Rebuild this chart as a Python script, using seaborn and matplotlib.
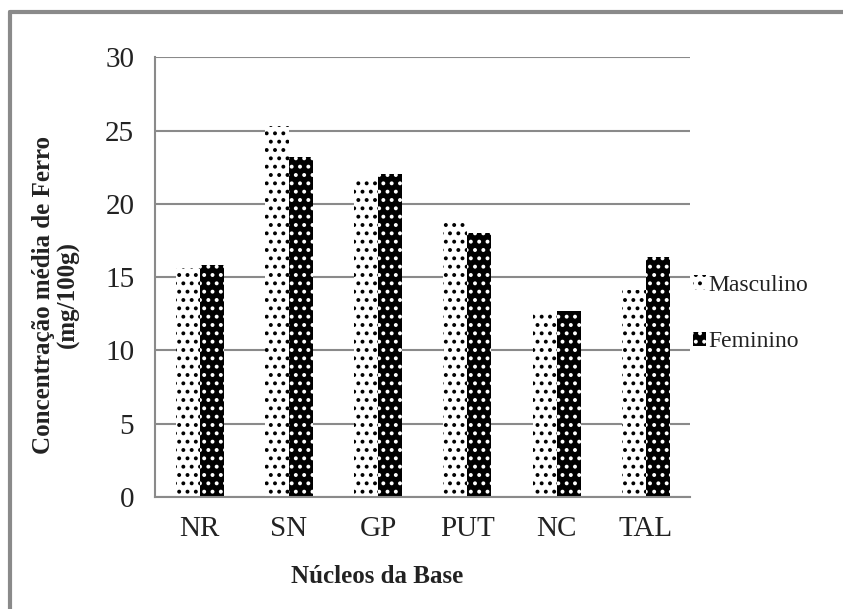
import numpy as np
import matplotlib
matplotlib.use('Agg')
import matplotlib.pyplot as plt
import pandas as pd
import seaborn as sns
from matplotlib.lines import Line2D
from matplotlib.patches import Patch

# Valores
nucleos = ['NR', 'SN', 'GP', 'PUT', 'NC', 'TAL']
masculino = [15.6, 25.3, 21.8, 18.7, 12.6, 14.1]
feminino = [15.8, 23.2, 22.0, 18.0, 12.7, 16.4]
grupos = ['Masculino', 'Feminino']

df = pd.DataFrame({
    'nucleo': nucleos * 2,
    'conc': masculino + feminino,
    'sexo': [grupos[0]] * len(nucleos) + [grupos[1]] * len(nucleos),
})

sns.set_style('white')
plt.rcParams['font.family'] = ['Liberation Serif', 'DejaVu Serif']
plt.rcParams['hatch.linewidth'] = 1.6

fig = plt.figure(figsize=(8.43, 6.09), dpi=100)
ax = fig.add_axes([0.184, 0.184, 0.635, 0.722])

sns.barplot(data=df, x='nucleo', y='conc', hue='sexo', palette=['white', 'black'],
            width=0.54, gap=0, ax=ax, legend=False)

estilos = [('white', 'black'), ('black', 'white')]
for cont, (fc, hc) in zip(ax.containers, estilos):
    for bar in cont:
        bar.set_facecolor(fc)
        bar.set_edgecolor(hc)
        bar.set_hatch('..')
        bar.set_linewidth(0)

ax.set_ylim(0, 30)
ax.set_yticks(range(0, 31, 5))
ax.yaxis.grid(True, color='#8a8a8a', linewidth=1.5)
ax.set_axisbelow(True)
for s in ['top', 'right']:
    ax.spines[s].set_visible(False)
for s in ['left', 'bottom']:
    ax.spines[s].set_color('#8a8a8a')
    ax.spines[s].set_linewidth(1.5)
ax.tick_params(axis='y', length=6, width=1.5, color='#8a8a8a', pad=9, labelsize=21, labelcolor='#222222')
ax.tick_params(axis='x', length=0, pad=14, labelsize=21, labelcolor='#222222')

ax.set_xlabel('Núcleos da Base', fontsize=18, fontweight='bold', color='#222222')
ax.set_ylabel('Concentração média de Ferro\n(mg/100g)', fontsize=18, fontweight='bold',
              color='#222222', linespacing=1.1)
ax.xaxis.set_label_coords(0.415, -0.155)
ax.yaxis.set_label_coords(-0.14, 0.46)

handles = [Patch(facecolor=fc, edgecolor=hc, hatch='..', linewidth=0) for fc, hc in estilos]
fig.legend(handles, grupos, loc='center left', bbox_to_anchor=(0.822, 0.485),
           frameon=False, fontsize=17, handlelength=0.55, handleheight=0.55,
           handletextpad=0.1, labelspacing=1.5, borderaxespad=0, borderpad=0,
           labelcolor='#222222')

# marco gris del recuadro original
fig.add_artist(Line2D([0.012, 1.0], [0.98, 0.98], color='#8a8a8a', linewidth=3,
                      transform=fig.transFigure))
fig.add_artist(Line2D([0.012, 0.012], [0.0, 0.98], color='#8a8a8a', linewidth=3,
                      transform=fig.transFigure))

plt.savefig('out.png', dpi=100)
